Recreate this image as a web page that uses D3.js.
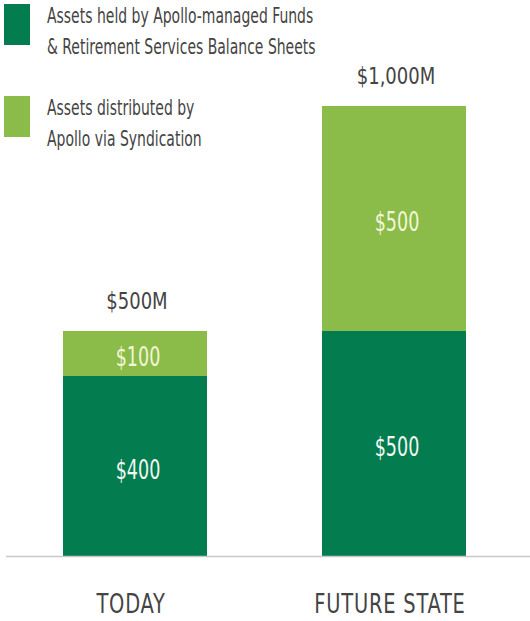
<!DOCTYPE html>
<html><head><meta charset="utf-8">
<script src="https://cdn.jsdelivr.net/npm/d3@7"></script>
<style>body{margin:0;background:#fff}</style>
</head><body>
<script>
const categories = ["TODAY", "FUTURE STATE"];
const heldValues = [400, 500];
const syndicatedValues = [100, 500];
const totalLabels = ["$500M", "$1,000M"];
const seriesNames = ["Assets held by Apollo-managed Funds\n& Retirement Services Balance Sheets", "Assets distributed by\nApollo via Syndication"];

const W = 530, H = 621;
const font = "'DejaVu Sans Condensed','DejaVu Sans',sans-serif";
const svg = d3.select("body").append("svg").attr("width", W).attr("height", H);

const x = d3.scaleBand().domain(categories).range([-14.7, 543.7]).paddingInner(0.444).paddingOuter(0.3);
const y = d3.scaleLinear().domain([0, 1000]).range([556, 106]);
const colors = ["#037D50", "#8BBB49"];
const textColors = ["#F2F8F2", "#F3F6D6"];

function addText(g, px, py, sx, size, fill, txt, anchor, spacing) {
  return g.append("text")
    .attr("transform", `translate(${px},${py}) scale(${sx},1)`)
    .attr("text-anchor", anchor || "middle").attr("fill", fill)
    .style("font-family", font).style("font-size", size + "px")
    .style("letter-spacing", (spacing || 0) + "px")
    .text(txt);
}

const data = categories.map((c, i) => ({cat: c, vals: [heldValues[i], syndicatedValues[i]], total: totalLabels[i]}));
const stack = d3.stack().keys([0, 1]).value((d, k) => d.vals[k]);
const series = stack(data);

series.forEach((s, k) => {
  const g = svg.append("g");
  g.selectAll("rect").data(s).enter().append("rect")
    .attr("x", d => x(d.data.cat)).attr("width", x.bandwidth())
    .attr("y", d => y(d[1])).attr("height", d => y(d[0]) - y(d[1]))
    .attr("fill", colors[k]);
  s.forEach(d => {
    addText(g, x(d.data.cat) + x.bandwidth() / 2 + 3, (y(d[0]) + y(d[1])) / 2 + 12.5, 0.75, 26, textColors[k], "$" + d.data.vals[k]);
  });
});

const tg = svg.append("g");
data.forEach(d => {
  addText(tg, x(d.cat) + x.bandwidth() / 2 + 2, y(d.vals[0] + d.vals[1]) - 22, 0.87, 23, "#444", d.total);
});

// baseline
svg.append("line").attr("x1", 6).attr("x2", 530).attr("y1", y(0) + 0.5).attr("y2", y(0) + 0.5)
  .attr("stroke", "#c8c8c8").attr("stroke-width", 1.5);

// category labels
const cg = svg.append("g");
categories.forEach(c => {
  addText(cg, x(c) + x.bandwidth() / 2 - 4, y(0) + 57, 0.8, 27, "#444", c, "middle", 1);
});

// legend
const legY = [4, 96];
const lg = svg.append("g");
seriesNames.forEach((n, k) => {
  lg.append("rect").attr("x", 4).attr("y", legY[k]).attr("width", 26).attr("height", 41).attr("fill", colors[k]);
  n.split("\n").forEach((line, j) => {
    addText(lg, 47, legY[k] + 19 + j * 31, 0.74, 21, "#444", line, "start");
  });
});
</script>
</body></html>
